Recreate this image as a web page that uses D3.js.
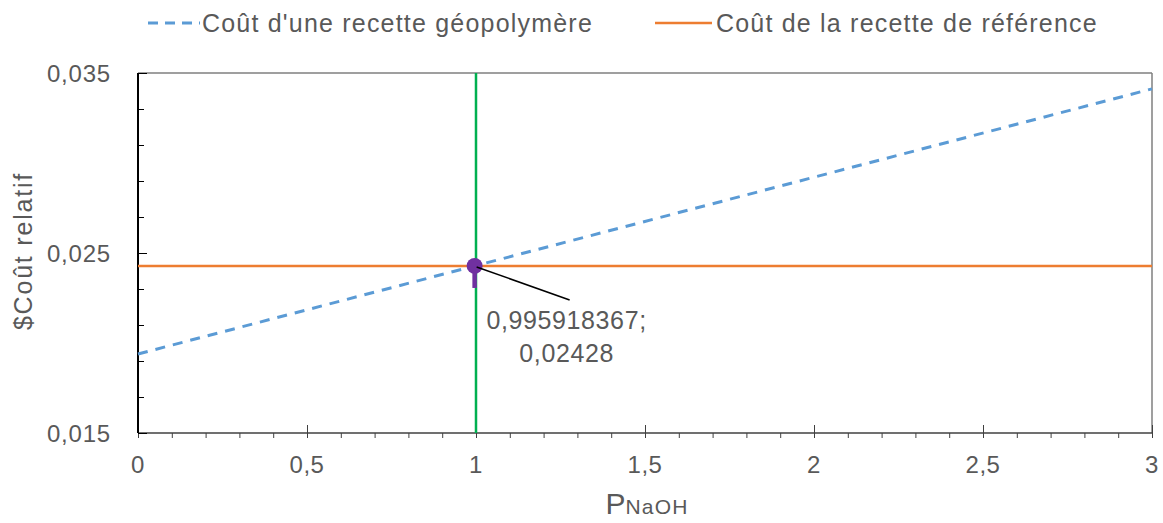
<!DOCTYPE html>
<html>
<head>
<meta charset="utf-8">
<script src="https://cdn.jsdelivr.net/npm/d3@7"></script>
<style>
  body { margin: 0; background: #fff; }
  text { font-family: Arial, "Liberation Sans", sans-serif; fill: #595959; }
</style>
</head>
<body>
<div id="chart"></div>
<script>
// data
const xValues = [0, 1, 2, 3];
const geoCost = [0.01939, 0.02430, 0.02921, 0.03412];
const refCost = [0.02428, 0.02428, 0.02428, 0.02428];
const crossPoint = { x: 0.995918367, y: 0.02428 };
const verticalX = 1;
const seriesNames = ["Coût d'une recette géopolymère", "Coût de la recette de référence"];
const xTicks = [0, 0.5, 1, 1.5, 2, 2.5, 3];
const yTicks = [0.015, 0.025, 0.035];

const width = 1163, height = 523;
const margin = { top: 73, right: 11, bottom: 90, left: 138 };
const innerW = width - margin.left - margin.right;
const innerH = height - margin.top - margin.bottom;

const svg = d3.select('#chart').append('svg')
  .attr('width', width)
  .attr('height', height);

const g = svg.append('g')
  .attr('transform', `translate(${margin.left},${margin.top})`);

const x = d3.scaleLinear().domain([0, 3]).range([0, innerW]);
const y = d3.scaleLinear().domain([0.015, 0.035]).range([innerH, 0]);

const fmt = (d) => String(d).replace('.', ',');

/* frame: top and right in grey */
g.append('line').attr('x1', 0).attr('x2', innerW).attr('y1', 0).attr('y2', 0)
  .attr('stroke', '#7f7f7f').attr('stroke-width', 1.5);
g.append('line').attr('x1', innerW).attr('x2', innerW).attr('y1', 0).attr('y2', innerH)
  .attr('stroke', '#7f7f7f').attr('stroke-width', 1.5);

/* x axis: minor ticks outside, major ticks across */
const xMinor = d3.range(0, 3.01, 0.1).map((d) => +d.toFixed(1));
const xAxisG = g.append('g').attr('transform', `translate(0,${innerH})`);
xAxisG.call(d3.axisBottom(x).tickValues(xMinor).tickSize(5).tickFormat(''))
  .call((s) => s.select('.domain').remove())
  .call((s) => s.selectAll('line').attr('stroke', '#404040'));
xAxisG.append('g').call(d3.axisBottom(x).tickValues(xTicks).tickSize(5).tickFormat(''))
  .call((s) => s.select('.domain').remove())
  .call((s) => s.selectAll('line').attr('y1', -8).attr('stroke', '#404040'));
xAxisG.append('line').attr('x1', 0).attr('x2', innerW)
  .attr('stroke', '#404040').attr('stroke-width', 1.3);
xAxisG.selectAll('.xlab').data(xTicks).join('text')
  .attr('class', 'xlab')
  .attr('x', (d) => x(d))
  .attr('y', 40)
  .attr('text-anchor', 'middle')
  .attr('font-size', 24)
  .attr('letter-spacing', 0.5)
  .text(fmt);

/* y axis: ticks inside */
const yMinor = d3.range(0.015, 0.0351, 0.002);
const yAxisG = g.append('g');
yAxisG.call(d3.axisRight(y).tickValues(yMinor).tickSize(6).tickFormat(''))
  .call((s) => s.select('.domain').remove())
  .call((s) => s.selectAll('line').attr('stroke', '#000'));
yAxisG.append('g').call(d3.axisRight(y).tickValues(yTicks).tickSize(9).tickFormat(''))
  .call((s) => s.select('.domain').remove())
  .call((s) => s.selectAll('line').attr('stroke', '#000'));
yAxisG.append('line').attr('y1', 0).attr('y2', innerH)
  .attr('stroke', '#000').attr('stroke-width', 2);
yAxisG.selectAll('.ylab').data(yTicks).join('text')
  .attr('class', 'ylab')
  .attr('x', -27)
  .attr('y', (d) => y(d) + 8.5)
  .attr('text-anchor', 'end')
  .attr('font-size', 24)
  .attr('letter-spacing', 0.8)
  .text((d) => fmt(d.toFixed(3)));

/* axis titles */
svg.append('text')
  .attr('transform', `translate(32,${margin.top + y(0.025) - 2})rotate(-90)`)
  .attr('text-anchor', 'middle')
  .attr('font-size', 25)
  .attr('letter-spacing', 1.8)
  .text('$Coût relatif');

const xTitle = svg.append('text')
  .attr('x', margin.left + x(1.5) + 2)
  .attr('y', 514)
  .attr('text-anchor', 'middle');
xTitle.append('tspan').attr('font-size', 30).text('P');
xTitle.append('tspan').attr('font-size', 21).attr('letter-spacing', 1.2).text('NaOH');

/* lines */
const lineGen = d3.line().x((d) => x(d[0])).y((d) => y(d[1]));

g.append('line')
  .attr('x1', x(verticalX)).attr('x2', x(verticalX))
  .attr('y1', 0).attr('y2', innerH)
  .attr('stroke', '#00b050').attr('stroke-width', 2.5);

g.append('path')
  .datum(xValues.map((d, i) => [d, refCost[i]]))
  .attr('d', lineGen)
  .attr('fill', 'none')
  .attr('stroke', '#ed7d31')
  .attr('stroke-width', 2.5);

g.append('path')
  .datum(xValues.map((d, i) => [d, geoCost[i]]))
  .attr('d', lineGen)
  .attr('fill', 'none')
  .attr('stroke', '#5b9bd5')
  .attr('stroke-width', 3)
  .attr('stroke-dasharray', '10,8');

/* intersection marker */
const cx = x(crossPoint.x), cy = y(crossPoint.y);
g.append('line')
  .attr('x1', cx).attr('x2', cx).attr('y1', cy).attr('y2', cy + 22)
  .attr('stroke', '#7030a0').attr('stroke-width', 4.5);
g.append('circle')
  .attr('cx', cx).attr('cy', cy).attr('r', 8)
  .attr('fill', '#7030a0');
g.append('line')
  .attr('x1', cx + 2).attr('y1', cy + 1)
  .attr('x2', cx + 95).attr('y2', cy + 34)
  .attr('stroke', '#000').attr('stroke-width', 1.5);

const callout = g.append('text')
  .attr('font-size', 25)
  .attr('letter-spacing', 0.6)
  .attr('text-anchor', 'middle');
callout.append('tspan').attr('x', cx + 92).attr('y', cy + 63).text('0,995918367;');
callout.append('tspan').attr('x', cx + 92).attr('y', cy + 96).text(fmt(crossPoint.y));

/* legend */
const legend = svg.append('g');
legend.append('line')
  .attr('x1', 148).attr('x2', 200).attr('y1', 23).attr('y2', 23)
  .attr('stroke', '#5b9bd5').attr('stroke-width', 3)
  .attr('stroke-dasharray', '10,7');
legend.append('text')
  .attr('x', 202).attr('y', 32).attr('font-size', 25)
  .attr('letter-spacing', 1.2)
  .text(seriesNames[0]);
legend.append('line')
  .attr('x1', 655).attr('x2', 712).attr('y1', 23).attr('y2', 23)
  .attr('stroke', '#ed7d31').attr('stroke-width', 2.5);
legend.append('text')
  .attr('x', 716).attr('y', 32).attr('font-size', 25)
  .attr('letter-spacing', 1.2)
  .text(seriesNames[1]);
</script>
</body>
</html>
